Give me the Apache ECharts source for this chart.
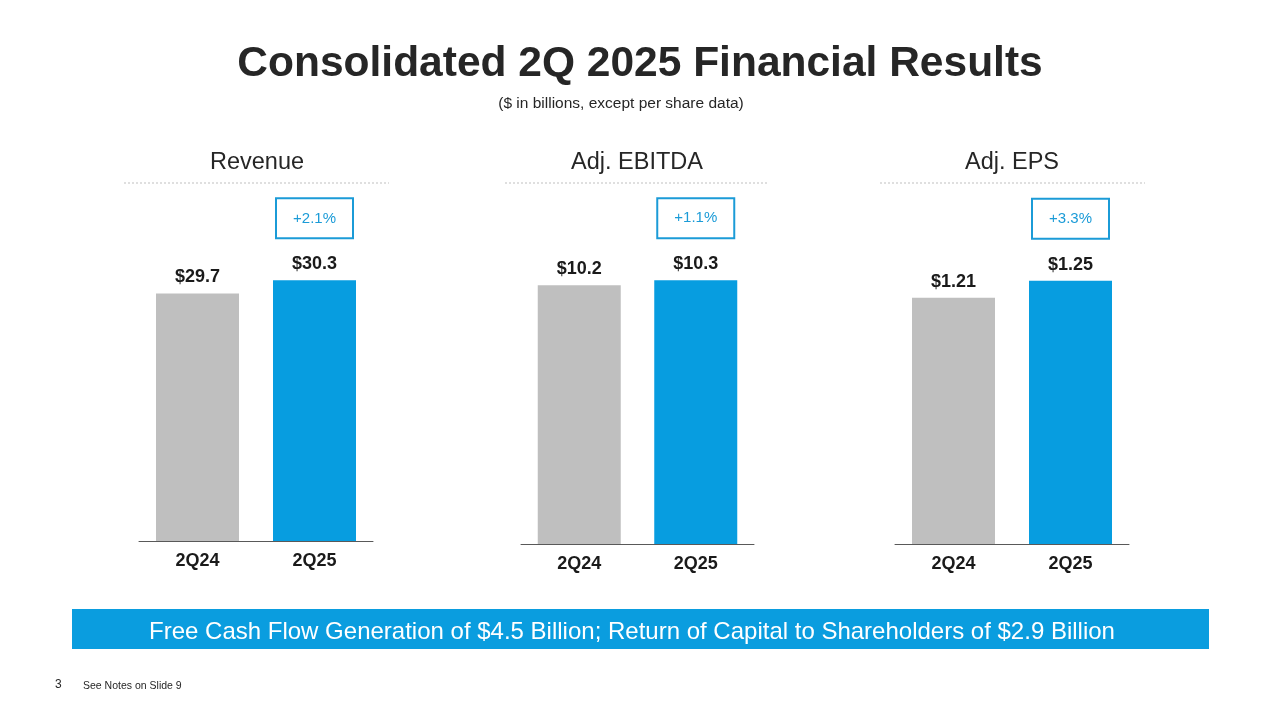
<!DOCTYPE html>
<html>
<head>
<meta charset="utf-8">
<script src="https://cdn.jsdelivr.net/npm/echarts@6/dist/echarts.min.js"></script>
<style>
  html, body { margin: 0; padding: 0; background: #fff; }
  #main { width: 1280px; height: 720px; }
</style>
</head>
<body>
<div id="main"></div>
<script>
var font = '"Liberation Sans", Arial, sans-serif';

// data
var periods = ['2Q24', '2Q25'];
var panelNames = ['Revenue', 'Adj. EBITDA', 'Adj. EPS'];
var revenue = [29.7, 30.3];
var ebitda = [10.2, 10.3];
var eps = [1.21, 1.25];
var changes = ['+2.1%', '+1.1%', '+3.3%'];
var valueLabels = [['$29.7', '$30.3'], ['$10.2', '$10.3'], ['$1.21', '$1.25']];

var values = [revenue, ebitda, eps];
// axis ranges (slide bars are not drawn from zero)
var yMin = [18.3, 5.05, 0.63];
var yMax = [34, 11.9, 1.44];
var grids = [
    {left: 139, width: 234, top: 200, bottom: 179},
    {left: 521, width: 233, top: 200, bottom: 176},
    {left: 895, width: 234, top: 200, bottom: 176}
];
var titleX = [257, 637, 1012];
var ruleX = [[124, 389], [505, 769], [880, 1145]];

var grayColor = '#bfbfbf';
var blueColor = '#079de0';
var boxBlue = '#1b9bd7';

var myChart = echarts.init(document.getElementById('main'));

var xAxes = [], yAxes = [], series = [], graphics = [];

graphics.push({
    type: 'text', x: 640, y: 64,
    style: {
        text: 'Consolidated 2Q 2025 Financial Results',
        fill: '#262626', font: 'bold 42.5px ' + font,
        textAlign: 'center', textVerticalAlign: 'middle'
    }
});
graphics.push({
    type: 'text', x: 621, y: 104,
    style: {
        text: '($ in billions, except per share data)',
        fill: '#262626', font: '15.5px ' + font,
        textAlign: 'center', textVerticalAlign: 'middle'
    }
});

for (var i = 0; i < 3; i++) {
    (function (i) {
        graphics.push({
            type: 'text', x: titleX[i], y: 163,
            style: {
                text: panelNames[i], fill: '#262626', font: '23.5px ' + font,
                textAlign: 'center', textVerticalAlign: 'middle'
            }
        });
        graphics.push({
            type: 'line',
            shape: {x1: ruleX[i][0], y1: 183, x2: ruleX[i][1], y2: 183},
            style: {stroke: '#bfbfbf', lineWidth: 1, lineDash: [2, 2]}
        });
        xAxes.push({
            gridIndex: i,
            type: 'category',
            data: periods,
            axisLine: {lineStyle: {color: '#595959', width: 1}},
            axisTick: {show: false},
            axisLabel: {fontFamily: font, fontSize: 18, fontWeight: 'bold', color: '#1a1a1a', margin: 11}
        });
        yAxes.push({
            gridIndex: i,
            type: 'value',
            min: yMin[i], max: yMax[i],
            show: false,
            splitLine: {show: false}
        });
        series.push({
            type: 'bar',
            xAxisIndex: i, yAxisIndex: i,
            barWidth: 83,
            data: values[i],
            itemStyle: {
                color: function (p) { return p.dataIndex === 0 ? grayColor : blueColor; }
            },
            label: {
                show: true,
                position: 'top',
                distance: 7,
                fontFamily: font, fontSize: 18, fontWeight: 'bold', color: '#1a1a1a',
                formatter: function (p) { return valueLabels[i][p.dataIndex]; }
            },
            markPoint: {
                symbol: 'rect',
                symbolSize: 1,
                symbolOffset: [0, -62],
                itemStyle: {color: 'rgba(0,0,0,0)'},
                label: {
                    show: true, position: 'inside',
                    width: 75, height: 38, lineHeight: 38,
                    align: 'center', verticalAlign: 'middle',
                    borderColor: boxBlue, borderWidth: 2, backgroundColor: '#fff',
                    fontFamily: font, fontSize: 15, color: boxBlue,
                    formatter: function () { return changes[i]; }
                },
                data: [{coord: [periods[1], values[i][1]]}]
            }
        });
    })(i);
}

graphics.push({
    type: 'rect',
    shape: {x: 72, y: 609, width: 1137, height: 40},
    style: {fill: '#0a9ddf'}
});
graphics.push({
    type: 'text',
    x: 632, y: 632,
    style: {
        text: 'Free Cash Flow Generation of $4.5 Billion; Return of Capital to Shareholders of $2.9 Billion',
        fill: '#fff', font: '24px ' + font, textAlign: 'center', textVerticalAlign: 'middle'
    }
});
graphics.push({
    type: 'text', x: 55, y: 685,
    style: {text: '3', fill: '#262626', font: '12px ' + font, textVerticalAlign: 'middle'}
});
graphics.push({
    type: 'text', x: 83, y: 686,
    style: {text: 'See Notes on Slide 9', fill: '#262626', font: '10.5px ' + font, textVerticalAlign: 'middle'}
});

myChart.setOption({
    animation: false,
    grid: grids,
    xAxis: xAxes,
    yAxis: yAxes,
    series: series,
    graphic: graphics
});
</script>
</body>
</html>
